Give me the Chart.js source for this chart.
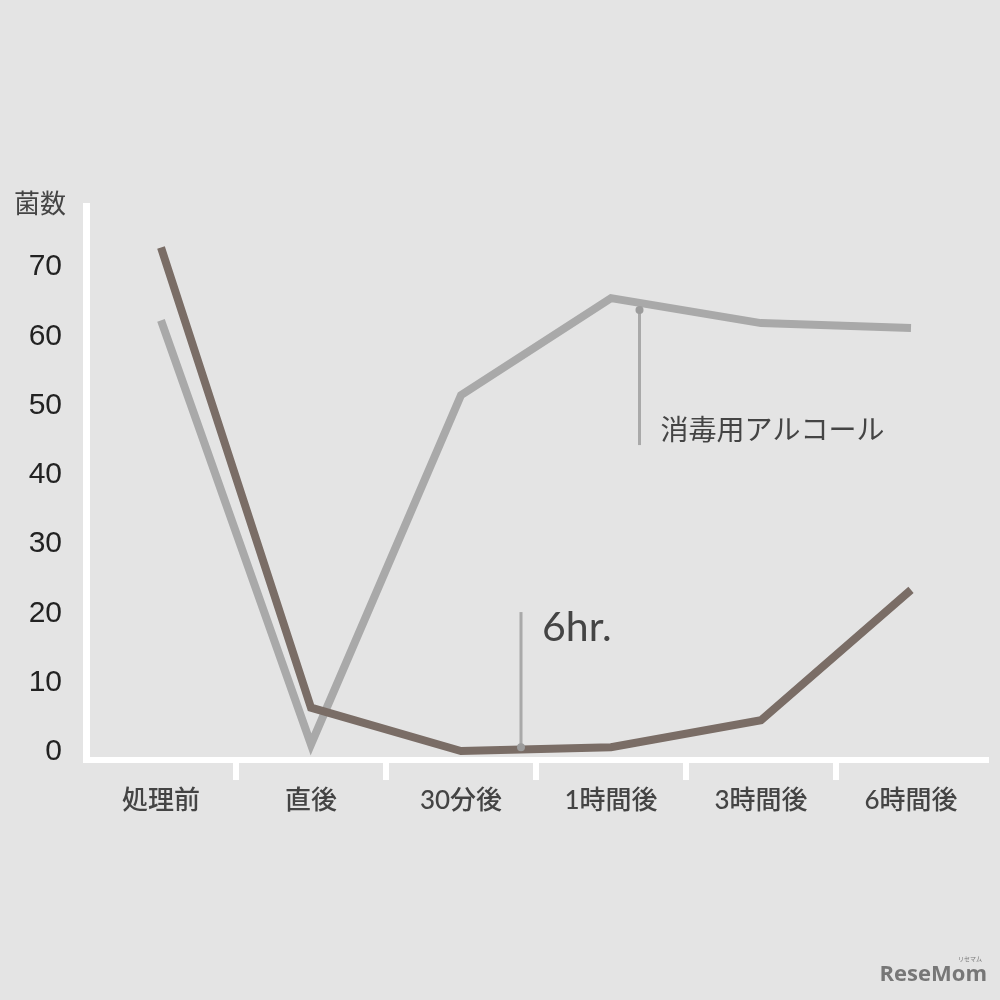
<!DOCTYPE html>
<html lang="ja">
<head>
    <meta charset="UTF-8">
    <title>菌数の推移</title>
    <script src="https://cdn.jsdelivr.net/npm/chart.js"></script>
    <style>
        body { margin: 0; background: #e4e4e4; }
        #wrap { width: 1000px; height: 1000px; }
    </style>
</head>
<body>
<div id="wrap"><canvas id="chart" width="1000" height="1000"></canvas></div>
<script>
    // data
    const categories = ['処理前', '直後', '30分後', '1時間後', '3時間後', '6時間後'];
    const darkSeries = [72.8, 6.4, 0.15, 0.7, 4.6, 23.4];
    const alcoholSeries = [62.3, 1.1, 51.5, 65.5, 61.9, 61.2];
    const yTicks = [0, 10, 20, 30, 40, 50, 60, 70];

    // callouts: label, x in category units, line top / bottom in data units, text y
    const noteLabels = ['消毒用アルコール', '6hr.'];
    const noteX = [3.19, 2.4];
    const noteTop = [63.8, 20.2];
    const noteBottom = [44.3, 0.7];
    const noteTextY = [46.5, 17.9];

    const textColor = '#444';
    const jpFont = "Lato, 'Noto Sans CJK JP', sans-serif";

    const overlay = {
        id: 'overlay',
        afterDatasetsDraw(chart) {
            const ctx = chart.ctx;
            const xs = chart.scales.x, ys = chart.scales.y;
            ctx.save();
            noteLabels.forEach((label, i) => {
                const x = xs.getPixelForValue(noteX[i]);
                const y1 = ys.getPixelForValue(noteTop[i]);
                const y2 = ys.getPixelForValue(noteBottom[i]);
                ctx.strokeStyle = '#a9a9a9';
                ctx.lineWidth = 3;
                ctx.beginPath();
                ctx.moveTo(x, y1);
                ctx.lineTo(x, y2);
                ctx.stroke();
                // dot sits on the line it points at
                ctx.fillStyle = '#9c9c9c';
                ctx.beginPath();
                ctx.arc(x, i === 0 ? y1 : y2, 4, 0, Math.PI * 2);
                ctx.fill();

                ctx.fillStyle = textColor;
                ctx.textBaseline = 'middle';
                ctx.textAlign = 'left';
                ctx.font = i === 0 ? "28px 'Noto Sans CJK JP', sans-serif" : "41px Lato, 'Open Sans', sans-serif";
                ctx.fillText(label, x + 21, ys.getPixelForValue(noteTextY[i]));
            });

            // axis title
            ctx.font = "26px 'Noto Sans CJK JP', sans-serif";
            ctx.fillStyle = textColor;
            ctx.textAlign = 'left';
            ctx.fillText('菌数', 14, 203);

            // watermark
            ctx.font = "bold 22px 'Open Sans', sans-serif";
            ctx.fillStyle = '#777';
            ctx.textAlign = 'right';
            ctx.fillText('ReseMom', 987, 975);
            ctx.font = "6px 'Noto Sans CJK JP', sans-serif";
            ctx.fillText('リセマム', 982, 959);
            ctx.restore();
        }
    };

    new Chart(document.getElementById('chart'), {
        type: 'line',
        data: {
            labels: categories,
            datasets: [
                {
                    label: '6hr.',
                    data: darkSeries,
                    borderColor: '#7a6d66',
                    borderWidth: 8,
                    borderJoinStyle: 'miter',
                    borderCapStyle: 'butt',
                    pointRadius: 0,
                    tension: 0
                },
                {
                    label: '消毒用アルコール',
                    data: alcoholSeries,
                    borderColor: '#a9a9a9',
                    borderWidth: 8,
                    borderJoinStyle: 'miter',
                    borderCapStyle: 'butt',
                    pointRadius: 0,
                    tension: 0
                }
            ]
        },
        options: {
            responsive: false,
            animation: false,
            devicePixelRatio: 1,
            layout: { padding: { top: 206, right: 14, left: 0, bottom: 0 } },
            plugins: { legend: { display: false }, tooltip: { enabled: false } },
            scales: {
                x: {
                    offset: true,
                    afterFit(scale) { scale.height = 240; },
                    border: { display: true, color: '#fff', width: 6 },
                    grid: {
                        offset: true,
                        drawOnChartArea: false,
                        drawTicks: true,
                        tickLength: 20,
                        lineWidth: 6,
                        color: ctx => (ctx.type !== 'tick' || ctx.index === 0) ? 'rgba(0,0,0,0)' : '#fff'
                    },
                    ticks: {
                        color: textColor,
                        padding: 5,
                        font: { family: jpFont, size: 26, weight: '500' }
                    }
                },
                y: {
                    min: -1.15,
                    max: 78.8,
                    afterFit(scale) { scale.width = 86; },
                    afterBuildTicks(scale) { scale.ticks = yTicks.map(v => ({ value: v })); },
                    border: { display: true, color: '#fff', width: 7 },
                    grid: { display: false, drawTicks: false },
                    ticks: {
                        color: '#222',
                        padding: 24,
                        font: { family: "'Liberation Sans', Arial, sans-serif", size: 30 }
                    }
                }
            }
        },
        plugins: [overlay]
    });
</script>
</body>
</html>
